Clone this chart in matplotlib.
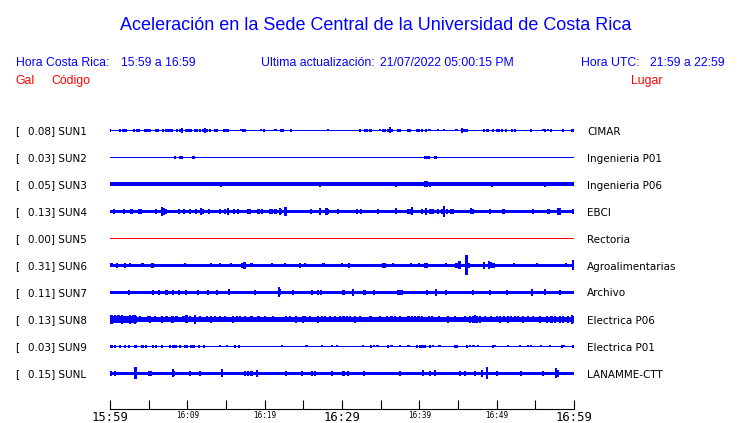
"""
Acceleration traces for the UCR central campus stations (one hour window)
"""

import matplotlib.pyplot as plt

# Station info
CODES = ["SUN1", "SUN2", "SUN3", "SUN4", "SUN5", "SUN6", "SUN7", "SUN8", "SUN9", "SUNL"]
GALS = [0.08, 0.03, 0.05, 0.13, 0.00, 0.31, 0.11, 0.13, 0.03, 0.15]
PLACES = ["CIMAR", "Ingenieria P01", "Ingenieria P06", "EBCI", "Rectoria",
          "Agroalimentarias", "Archivo", "Electrica P06", "Electrica P01", "LANAMME-CTT"]

# Background noise level of each trace (half band)
NOISE = [0.75, 0.65, 2.0, 1.9, 0.6, 1.6, 1.9, 2.4, 0.75, 1.7]

# Time axis (minutes after 15:59)
TICK_LABELS = ["15:59", "16:09", "16:19", "16:29", "16:39", "16:49", "16:59"]

# Bursts: (minute, half amplitude)
SUN1_EVENTS = [(0.0, 1.2), (1.3, 1.5), (1.7, 1.2), (2.0, 1.5), (3.1, 1.5), (3.5, 1.5), (3.7, 1.5),
               (4.6, 1.2), (4.9, 1.5), (5.2, 1.5), (6.0, 1.5), (6.2, 1.2), (6.9, 1.5), (7.2, 1.5),
               (7.5, 1.5), (7.8, 1.5), (8.0, 1.5), (8.7, 1.5), (9.0, 1.8), (9.3, 2.3), (9.9, 1.5),
               (10.2, 1.5), (10.5, 1.5), (11.0, 1.5), (11.3, 1.5), (11.6, 1.5), (12.0, 1.8),
               (12.3, 2.8), (12.5, 1.8), (12.9, 1.2), (13.6, 1.5), (13.8, 1.2), (14.8, 1.5),
               (15.0, 1.2), (15.3, 1.2), (16.9, 1.0), (17.2, 1.2), (17.5, 1.2), (19.5, 1.0),
               (19.9, 1.5), (21.4, 1.0), (22.1, 1.5), (22.4, 1.5), (23.4, 1.2), (28.2, 1.0),
               (32.3, 1.5), (33.0, 1.5), (33.2, 1.2), (33.6, 1.5), (33.8, 1.2), (34.9, 1.0),
               (35.3, 1.2), (35.6, 1.2), (36.0, 1.8), (36.2, 3.0), (36.4, 1.8), (37.2, 1.5),
               (37.5, 1.5), (38.6, 1.5), (38.8, 1.2), (39.7, 1.5), (40.0, 1.5), (40.3, 1.2),
               (40.9, 1.2), (41.2, 1.0), (41.4, 1.0), (42.4, 1.0), (43.2, 1.0), (44.8, 1.0),
               (45.5, 2.3), (45.8, 1.5), (46.1, 1.2), (48.4, 1.2), (48.7, 1.5), (48.9, 1.2),
               (49.5, 1.2), (50.0, 1.2), (50.3, 1.2), (50.7, 1.2), (51.2, 1.2), (52.0, 1.5),
               (52.4, 1.5), (54.4, 1.2), (56.0, 1.0), (56.3, 1.2), (56.6, 1.0), (57.0, 1.2),
               (58.6, 1.2), (59.8, 1.5)]
SUN2_EVENTS = [(8.45, 1.5), (9.0, 1.3), (9.1, 1.3), (9.3, 1.3), (10.7, 1.5), (10.8, 1.5),
               (40.8, 1.3), (41.0, 1.3), (41.2, 1.3), (42.1, 1.3)]
SUN3_EVENTS = [(14.3, 2.7), (27.2, 2.7), (37.0, 2.7), (40.8, 3.0), (40.95, 3.0), (41.4, 2.7),
               (49.4, 2.2), (56.2, 2.7)]
SUN4_EVENTS = [(0.56, 2.7), (1.85, 2.2), (2.7, 2.7), (2.85, 2.7), (3.7, 2.2), (4.0, 2.2),
               (6.0, 2.2), (6.7, 4.7), (7.0, 3.5), (7.2, 2.7), (8.9, 2.7), (9.6, 2.2),
               (10.3, 2.2), (11.1, 2.7), (11.8, 3.3), (12.0, 2.7), (12.8, 2.2), (14.2, 2.7),
               (14.9, 2.2), (15.3, 3.3), (16.0, 2.2), (16.5, 2.2), (17.9, 2.7), (18.1, 2.7),
               (19.2, 2.2), (19.7, 2.2), (20.7, 2.2), (21.0, 2.5), (21.4, 2.2), (22.0, 3.5),
               (22.1, 2.7), (22.7, 4.2), (26.0, 2.2), (27.2, 3.5), (28.0, 3.5), (28.2, 2.7),
               (29.5, 2.2), (31.9, 2.7), (32.5, 2.2), (34.7, 2.2), (37.0, 3.0), (38.6, 2.2),
               (38.9, 2.7), (39.1, 4.0), (40.3, 2.2), (40.9, 3.5), (41.4, 2.7), (41.7, 2.7),
               (42.4, 2.2), (42.9, 2.7), (43.2, 5.5), (43.6, 2.7), (44.1, 2.2), (44.4, 2.2),
               (46.7, 3.0), (46.9, 2.7), (49.1, 2.2), (50.8, 2.2), (51.0, 2.2), (54.7, 2.2),
               (56.7, 2.2), (58.0, 3.5), (58.2, 3.5), (59.9, 2.7)]
SUN5_EVENTS = []
SUN6_EVENTS = [(0.2, 2.0), (0.9, 2.2), (1.9, 2.2), (2.6, 2.0), (4.2, 2.0), (5.4, 2.7), (5.6, 2.7),
               (9.7, 2.0), (13.1, 2.0), (14.2, 2.0), (15.7, 2.0), (17.1, 2.2), (17.4, 3.7),
               (18.3, 2.0), (20.9, 2.0), (22.6, 2.0), (24.6, 2.5), (25.2, 2.0), (27.6, 2.0),
               (30.0, 2.0), (30.9, 2.5), (35.3, 2.5), (35.6, 2.2), (36.6, 2.0), (38.9, 2.0),
               (40.0, 2.0), (40.7, 2.2), (41.0, 2.5), (43.5, 2.0), (44.8, 2.2), (45.2, 4.0),
               (46.1, 10.0), (46.4, 2.5), (48.4, 3.5), (49.0, 4.0), (49.2, 3.0), (49.6, 2.2),
               (52.2, 2.0), (55.2, 2.0), (59.0, 2.0), (59.9, 5.0)]
SUN7_EVENTS = [(2.5, 2.7), (5.6, 2.3), (6.3, 2.3), (7.3, 2.3), (8.2, 2.3), (8.9, 2.3), (9.8, 2.3),
               (11.4, 2.3), (12.7, 2.3), (13.8, 2.5), (15.4, 3.0), (18.8, 2.3), (21.8, 5.0),
               (22.0, 3.0), (23.7, 2.3), (26.1, 2.3), (26.9, 2.5), (27.3, 2.7), (30.2, 2.3),
               (31.4, 3.3), (32.9, 2.3), (34.1, 2.3), (37.3, 2.5), (37.7, 2.3), (41.0, 2.3),
               (42.2, 3.5), (43.4, 2.3), (46.9, 2.3), (49.1, 2.3), (51.3, 2.3), (54.6, 3.5),
               (56.2, 3.0), (58.2, 2.3)]
SUN8_EVENTS = [(0.0, 4.0), (0.2, 4.5), (0.4, 3.5), (0.6, 4.0), (0.9, 3.3), (1.1, 4.0), (1.3, 3.5),
               (1.5, 4.3), (1.7, 3.5), (1.9, 3.8), (2.2, 3.3), (2.4, 3.8), (2.6, 4.3), (2.8, 3.5),
               (3.0, 4.0), (3.2, 4.5), (3.4, 3.8), (3.9, 3.0), (4.9, 3.0), (5.2, 3.3), (5.8, 3.0),
               (6.7, 3.3), (7.3, 3.0), (8.0, 3.3), (8.2, 3.5), (8.6, 3.0), (9.5, 3.0), (9.9, 4.0),
               (10.3, 3.0), (11.0, 4.3), (11.6, 3.0), (12.5, 3.0), (13.1, 3.3), (13.6, 3.0),
               (14.2, 3.0), (14.9, 3.0), (15.9, 3.3), (16.4, 3.0), (16.8, 3.0), (17.5, 3.0),
               (18.3, 3.0), (19.2, 3.0), (20.0, 3.0), (21.1, 3.0), (22.8, 3.0), (23.3, 3.0),
               (24.1, 3.5), (25.0, 3.5), (25.2, 3.0), (25.9, 3.0), (26.9, 3.5), (27.4, 3.0),
               (27.8, 3.0), (28.4, 3.0), (29.1, 3.0), (29.7, 3.0), (30.2, 3.0), (30.6, 3.0),
               (31.0, 3.0), (31.7, 3.3), (32.3, 3.0), (33.6, 3.0), (33.8, 3.0), (34.9, 3.0),
               (35.8, 3.0), (36.4, 3.0), (36.9, 3.0), (37.5, 3.0), (38.6, 3.0), (39.0, 3.0),
               (39.4, 3.0), (39.9, 3.0), (40.3, 3.0), (41.2, 3.0), (41.6, 3.0), (42.5, 3.0),
               (43.7, 3.3), (44.6, 3.0), (45.9, 3.0), (46.6, 3.5), (47.0, 3.5), (47.2, 4.0),
               (47.5, 3.5), (47.8, 3.3), (48.5, 3.0), (49.3, 3.0), (50.0, 3.0), (50.4, 3.3),
               (50.9, 3.0), (51.5, 3.3), (51.9, 3.0), (52.4, 3.0), (52.8, 3.0), (53.4, 3.3),
               (54.1, 3.0), (54.7, 3.0), (55.6, 3.3), (56.5, 3.5), (57.1, 3.3), (57.5, 3.5),
               (58.2, 3.3), (58.6, 3.5), (59.2, 3.8), (59.7, 4.3), (59.9, 3.8)]
SUN9_EVENTS = [(0.2, 1.2), (0.6, 1.2), (1.3, 1.2), (1.9, 1.2), (2.5, 1.2), (3.2, 1.2), (3.4, 1.2),
               (4.2, 1.2), (4.7, 1.2), (5.6, 1.2), (6.0, 1.2), (6.7, 1.2), (7.8, 1.2), (8.1, 1.5),
               (8.3, 1.5), (8.5, 1.5), (9.1, 1.2), (9.7, 1.5), (9.9, 1.2), (10.5, 1.2), (10.8, 1.2),
               (11.5, 1.2), (12.2, 1.2), (14.2, 1.0), (15.1, 1.0), (16.2, 1.2), (16.7, 1.2),
               (22.2, 1.0), (25.4, 1.0), (27.4, 1.0), (28.7, 1.0), (29.4, 1.0), (32.7, 1.0),
               (33.7, 1.2), (34.1, 1.0), (34.6, 1.0), (36.0, 1.2), (36.4, 1.0), (37.5, 1.0),
               (38.6, 1.0), (39.7, 1.5), (40.1, 1.5), (40.4, 1.5), (40.7, 1.2), (41.4, 1.2),
               (41.8, 1.0), (42.6, 1.0), (44.6, 1.5), (44.9, 1.5), (46.2, 1.2), (46.6, 1.0),
               (47.0, 1.0), (47.6, 1.0), (49.5, 1.5), (49.8, 1.0), (51.5, 1.0), (53.0, 1.0),
               (54.1, 1.0), (54.4, 1.0), (55.7, 1.0), (56.9, 1.0), (58.4, 1.2), (58.7, 1.0),
               (59.9, 1.2)]
SUNL_EVENTS = [(0.1, 2.2), (0.6, 2.5), (3.3, 6.0), (5.0, 2.2), (5.3, 2.7), (8.1, 4.0), (8.3, 2.7),
               (10.3, 2.7), (11.6, 2.7), (14.5, 4.0), (17.5, 2.2), (17.8, 2.2), (18.3, 2.2),
               (19.0, 3.5), (22.8, 2.2), (24.8, 2.2), (26.1, 2.2), (26.5, 2.2), (28.7, 2.2),
               (30.2, 2.2), (30.8, 2.2), (32.8, 2.2), (37.5, 2.7), (40.5, 3.0), (41.4, 2.5),
               (42.0, 3.0), (45.3, 2.2), (45.9, 2.2), (47.2, 2.2), (48.1, 3.5), (48.7, 6.0),
               (50.0, 2.7), (53.2, 2.2), (56.0, 2.2), (57.7, 5.0), (57.9, 3.5)]

EVENTS = [SUN1_EVENTS, SUN2_EVENTS, SUN3_EVENTS, SUN4_EVENTS, SUN5_EVENTS,
          SUN6_EVENTS, SUN7_EVENTS, SUN8_EVENTS, SUN9_EVENTS, SUNL_EVENTS]

W, H = 740, 423
BLUE = "#0000ff"
RED = "#ff0000"
SANS = "Liberation Sans"


def fx(px):
    return px / W


def fy(py):
    return 1 - py / H


fig = plt.figure(figsize=(W / 100, H / 100), dpi=100)

# Plot area, y axis in pixel rows so traces stack top to bottom
ax = fig.add_axes([fx(110), fy(409), fx(574) - fx(110), fy(100) - fy(409)])
ax.set_xlim(0, 60)
ax.set_ylim(409, 100)

for i, code in enumerate(CODES):
    yc = 130.5 + 27 * i
    color = RED if GALS[i] == 0 else BLUE
    n = NOISE[i]
    ax.fill_between([0, 60], yc - n, yc + n, color=color, lw=0)
    if EVENTS[i]:
        t = [e[0] for e in EVENTS[i]]
        a = [e[1] for e in EVENTS[i]]
        ax.bar(t, [2 * v for v in a], bottom=[yc - v for v in a], width=0.28,
               color=color, lw=0)

    # Labels on both sides
    fig.text(fx(15), fy(yc + 4), "[", fontsize=7.5, family="DejaVu Sans", va="baseline")
    fig.text(fx(28), fy(yc + 4), f"{GALS[i]:.2f}] {code}", fontsize=7.5,
             family="DejaVu Sans", va="baseline")
    fig.text(fx(587), fy(yc + 4), PLACES[i], fontsize=7.5, family="DejaVu Sans",
             va="baseline")

# Time axis
for side in ["top", "left", "right"]:
    ax.spines[side].set_visible(False)
ax.spines["bottom"].set_linewidth(0.8)
ax.set_yticks([])
ax.set_xticks(range(0, 61, 10))
ax.set_xticks(range(5, 60, 10), minor=True)
ax.set_xticklabels(TICK_LABELS, family="DejaVu Sans Mono")
ax.tick_params(axis="x", which="both", direction="in", length=6.5, width=0.8, pad=1.5)
for k, lab in enumerate(ax.get_xticklabels()):
    lab.set_fontsize(8.8 if k % 3 == 0 else 5.5)

# Header
fig.text(fx(376), fy(29.5), "Aceleración en la Sede Central de la Universidad de Costa Rica",
         ha="center", va="baseline", fontsize=13, family=SANS, color=BLUE)
fig.text(fx(15.5), fy(66), "Hora Costa Rica:", fontsize=8.8, family=SANS, color=BLUE, va="baseline")
fig.text(fx(121), fy(66), "15:59 a 16:59", fontsize=8.8, family=SANS, color=BLUE, va="baseline")
fig.text(fx(261), fy(66), "Ultima actualización:", fontsize=8.8, family=SANS, color=BLUE, va="baseline")
fig.text(fx(380), fy(66), "21/07/2022 05:00:15 PM", fontsize=8.8, family=SANS, color=BLUE, va="baseline")
fig.text(fx(581), fy(66), "Hora UTC:", fontsize=8.8, family=SANS, color=BLUE, va="baseline")
fig.text(fx(650), fy(66), "21:59 a 22:59", fontsize=8.8, family=SANS, color=BLUE, va="baseline")
fig.text(fx(15), fy(84), "Gal", fontsize=8.8, family=SANS, color=RED, va="baseline")
fig.text(fx(51), fy(84), "Código", fontsize=8.8, family=SANS, color=RED, va="baseline")
fig.text(fx(631), fy(84), "Lugar", fontsize=8.8, family=SANS, color=RED, va="baseline")

fig.savefig("out.png", dpi=100)
